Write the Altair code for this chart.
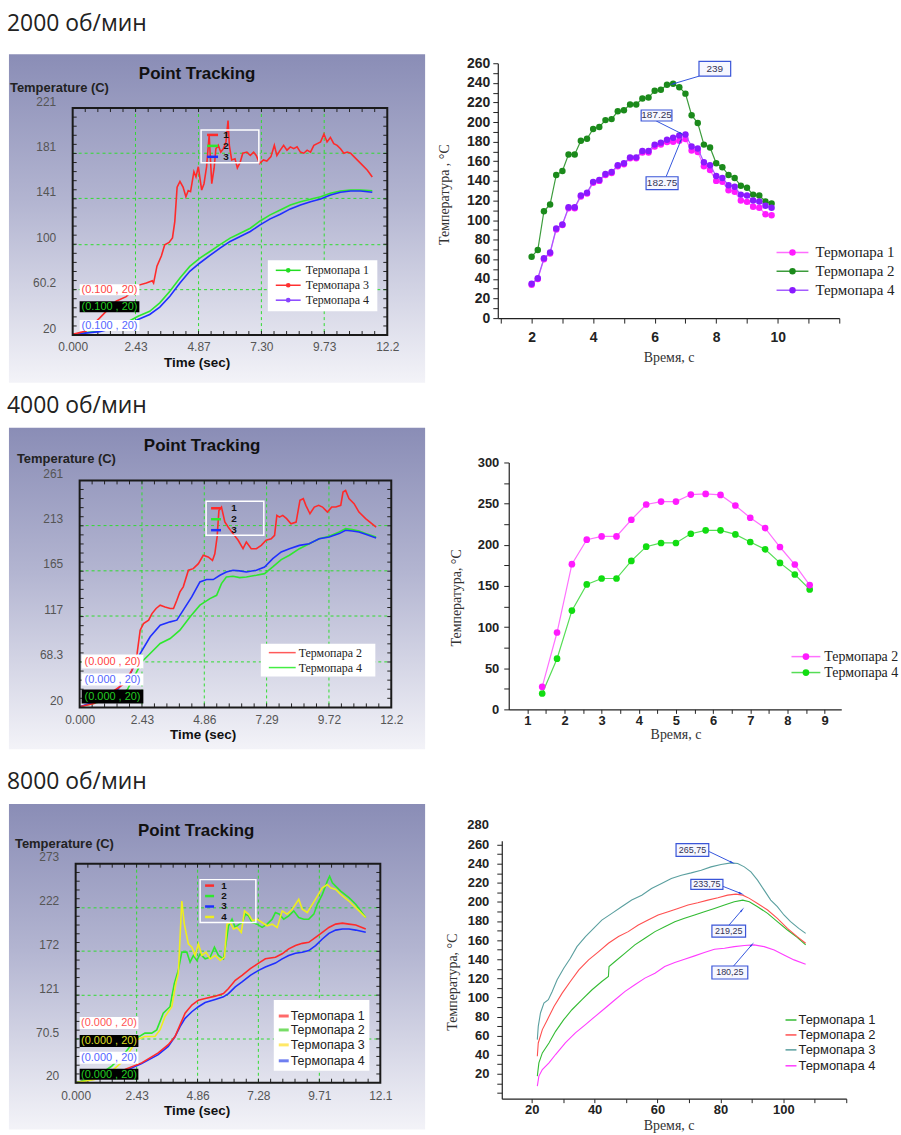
import math
import altair as alt
import pandas as pd

SANS = "Liberation Sans"
SERIF = "Liberation Serif"

# ======================= DATA =======================
# --- 2000 rpm, left (Point Tracking) ---
p1_x_ticks = [0, 2.43, 4.87, 7.30, 9.73, 12.17]
p1_x_labels = ["0.000", "2.43", "4.87", "7.30", "9.73", "12.2"]
p1_y_ticks = [20, 60.2, 100, 141, 181, 221]
p1_y_labels = ["20", "60.2", "100", "141", "181", "221"]
p1_t3_t = [0, 0.52, 1.04, 1.68, 2.07, 2.53, 2.85, 3.08, 3.13, 3.26, 3.43, 3.56, 3.73, 3.86, 3.95,
           4.04, 4.15, 4.27, 4.38, 4.47, 4.56, 4.69, 4.77, 4.86, 4.99, 5.08, 5.18, 5.28, 5.38, 5.47,
           5.54, 5.63, 5.73, 5.83, 5.93, 6.01, 6.06, 6.15, 6.28, 6.37, 6.48, 6.58, 6.74, 6.87, 7.0,
           7.1, 7.23, 7.38, 7.51, 7.67, 7.8, 7.9, 8.03, 8.16, 8.29, 8.42, 8.55, 8.68, 8.81, 8.94,
           9.07, 9.2, 9.33, 9.46, 9.59, 9.72, 9.84, 9.97, 10.1, 10.23, 10.36, 10.49, 10.62, 10.75,
           10.88, 11.14, 11.4, 11.59]
p1_t3_T = [20.6, 23.5, 35, 50, 54, 64, 66, 68, 66, 81, 90, 100, 102, 106, 120.5,
           151, 156, 151, 142.5, 148, 147, 164.6, 160, 169, 148.4, 154, 169, 197, 154, 167.5,
           185, 188, 182, 185, 191, 210, 188, 175, 176, 168, 173, 181, 182, 179, 182,
           179, 172, 175, 174, 178, 188, 179, 183.7, 188, 183.7, 186.6, 185, 186.6, 182, 181,
           183.7, 182, 188, 189.5, 191, 198, 191, 195, 189.5, 188, 185, 181, 182, 181,
           178, 172, 166, 160]
p1_t14_t = [0, 1.04, 1.94, 2.53, 2.98, 3.37, 3.76, 4.15, 4.53, 4.92, 5.31, 5.7, 6.09, 6.48, 6.87,
            7.25, 7.64, 8.03, 8.42, 8.81, 9.2, 9.59, 9.97, 10.36, 10.75, 11.14, 11.59]
p1_t1_T = [20.6, 23.5, 29.4, 36.7, 41, 48.5, 58.8, 70.5, 80.8, 88.2, 94, 100, 105.8, 110.2, 114.6,
           121, 126.4, 130.8, 135.2, 138, 140.2, 142.5, 145.5, 147.5, 148.4, 148.4, 147.8]
p1_t4_T = [20.6, 23, 28, 33.8, 38.2, 44.7, 54.4, 66, 76.4, 83.8, 90.5, 97, 102.9, 107.3, 111.7,
           117.6, 122.9, 127, 131.7, 135.2, 138.1, 140.5, 144, 146.4, 147.5, 147.5, 146.4]

# --- 2000 rpm, right ---
r1_x = [2.0, 2.2, 2.4, 2.6, 2.8, 3.0, 3.2, 3.4, 3.6, 3.8, 4.0, 4.2, 4.4, 4.6, 4.8, 5.0, 5.2, 5.4, 5.6, 5.8,
        6.0, 6.2, 6.4, 6.6, 6.8, 7.0, 7.2, 7.4, 7.6, 7.8, 8.0, 8.2, 8.4, 8.6, 8.8, 9.0, 9.2, 9.4, 9.6, 9.8]
r1_t1 = [34, 40, 60, 66, 90.5, 95, 112, 112, 124, 127, 138, 140, 146, 148, 155, 157, 163, 163, 169, 169,
         175, 177, 179.7, 180, 181, 182.75, 171, 169.5, 155, 151, 140, 139, 130.5, 129, 120, 118.6, 113.6,
         112.5, 106, 105]
r1_t2 = [62.7, 69.5, 109, 116, 146, 150, 167, 167, 181, 183, 193, 195, 202, 203, 211, 212, 218, 218, 224,
         225, 232, 233, 238, 239, 235.6, 229, 207, 199, 177, 174, 158, 154, 146, 143, 135, 133, 126, 125,
         119, 117]
r1_t4 = [35, 40.7, 61, 67, 91.5, 95.6, 113, 113, 125, 128, 139, 141, 147, 149, 156, 158, 164, 164, 170.5,
         170.5, 177, 179, 182, 184, 186.4, 187.25, 175, 173, 159, 156, 145, 143, 135.6, 134, 126, 125, 120,
         119, 114.6, 112.5]
r1_names = ["Термопара 1", "Термопара 2", "Термопара 4"]

# --- 4000 rpm, left ---
p3_x_ticks = [0, 2.43, 4.86, 7.29, 9.72, 12.15]
p3_x_labels = ["0.000", "2.43", "4.86", "7.29", "9.72", "12.2"]
p3_y_ticks = [20, 68.3, 117, 165, 213, 261]
p3_y_labels = ["20", "68.3", "117", "165", "213", "261"]
p3_red_t = [0, 0.56, 1.2, 1.72, 2.04, 2.24, 2.36, 2.49, 2.69, 2.82, 2.98, 3.14, 3.33, 3.53, 3.66,
            3.79, 3.91, 4.04, 4.24, 4.43, 4.63, 4.82, 5.01, 5.18, 5.27, 5.36, 5.43, 5.53, 5.66, 5.79,
            5.98, 6.18, 6.37, 6.5, 6.69, 6.89, 7.08, 7.27, 7.47, 7.6, 7.69, 7.79, 7.92, 8.07, 8.24,
            8.44, 8.59, 8.72, 8.82, 8.98, 9.15, 9.32, 9.47, 9.66, 9.83, 9.99, 10.18, 10.27, 10.37, 10.5,
            10.7, 10.89, 11.15, 11.56]
p3_red_T = [20.7, 24, 35, 45, 59.6, 77, 102, 109, 112.6, 119.6, 125, 128.5, 126.7, 125, 125,
            133.8, 142.6, 148, 165.6, 167.3, 172.6, 181.5, 179.7, 176, 183, 201, 229, 232.7, 216.8, 211.5,
            204.5, 197.4, 188.5, 195.6, 188.5, 188.5, 192, 197.4, 199, 202.7, 223.9, 222, 223.9, 220.4, 215,
            216.8, 239.8, 241.6, 234.5, 225.6, 232.7, 234.5, 232.7, 227.4, 232.7, 232.7, 234.5, 248.6, 250.4,
            241.6, 236.3, 227.4, 220.4, 211.5]
p3_blue_t = [0, 0.81, 1.46, 1.98, 2.36, 2.75, 3.14, 3.53, 3.79, 4.04, 4.37, 4.69, 4.95, 5.21, 5.47,
             5.72, 5.98, 6.24, 6.5, 6.89, 7.21, 7.53, 7.86, 8.18, 8.57, 8.95, 9.34, 9.73, 10.12, 10.37,
             10.63, 10.89, 11.15, 11.56]
p3_blue_T = [20.7, 27.8, 38.4, 56, 77.2, 95, 107.3, 110.8, 112.6, 123.2, 137.3, 153.2, 155.7, 155.7, 160.3,
             163.8, 165.6, 164.9, 163.8, 165.6, 169.1, 178, 185, 188.5, 192, 193.8, 199, 200.9, 204.5, 208,
             207.3, 206.2, 203.7, 199.9]
p3_green_t = [0, 1.07, 1.85, 2.43, 2.75, 3.14, 3.53, 3.91, 4.3, 4.69, 5.08, 5.34, 5.53, 5.72, 5.98,
              6.24, 6.5, 6.89, 7.21, 7.53, 7.86, 8.18, 8.57, 8.95, 9.34, 9.73, 10.12, 10.37, 10.63, 10.89,
              11.15, 11.56]
p3_green_T = [20.7, 27.8, 38.4, 68.4, 77.2, 87.8, 93.1, 102, 116, 128.5, 135.5, 139, 151.4, 158.5, 159.2,
              157.8, 158.5, 160.3, 162, 169.1, 176.9, 181.5, 188.5, 193.8, 199, 201.6, 206.2, 209.8, 208.7,
              207.3, 204.5, 200.9]

# --- 4000 rpm, right ---
r2_x = [1.4, 1.8, 2.2, 2.6, 3.0, 3.4, 3.8, 4.2, 4.6, 5.0, 5.4, 5.8, 6.2, 6.6, 7.0, 7.4, 7.8, 8.2, 8.6]
r2_t2 = [27.4, 93.4, 176.4, 206.2, 210.2, 210.2, 230.4, 248.9, 252.5, 252.5, 261, 261.8, 260.6, 247.7,
         232.8, 220.3, 197.3, 176, 151]
r2_t4 = [19.3, 61.6, 120, 151.8, 159, 159, 180.4, 197.7, 202.2, 202.2, 213.4, 217.5, 217.5, 212.6,
         203.4, 194.5, 178, 163.9, 145.8]
r2_names = ["Термопара 2", "Термопара 4"]

# --- 8000 rpm, left ---
p5_x_ticks = [0, 2.43, 4.86, 7.28, 9.71, 12.14]
p5_x_labels = ["0.000", "2.43", "4.86", "7.28", "9.71", "12.1"]
p5_y_ticks = [20, 70.5, 121, 172, 222, 273]
p5_y_labels = ["20", "70.5", "121", "172", "222", "273"]
p5_rb_t = [0, 1.03, 1.96, 2.63, 3.29, 3.69, 3.96, 4.16, 4.36, 4.63, 4.89, 5.16, 5.56, 5.89, 6.09,
           6.36, 6.63, 6.96, 7.29, 7.56, 7.96, 8.23, 8.49, 8.76, 9.03, 9.29, 9.56, 9.83, 10.09, 10.36,
           10.63, 10.89, 11.16, 11.56]
p5_t1_T = [20, 27.6, 35.3, 42.9, 54.4, 63.9, 73.4, 86.8, 100.2, 109.7, 115.4, 117.3, 120, 123, 128.8,
           138.3, 144, 151.7, 158.2, 163.1, 165, 168.9, 174.6, 178.4, 181, 182.2, 187.9, 193.7, 199.4,
           203.2, 204.3, 203.2, 202.1, 197.5]
p5_t4_T = [20, 25.7, 33.4, 42.1, 52.4, 62, 73.4, 84.9, 94.4, 102, 107.8, 112.7, 116.2, 119.2, 123,
           130.7, 136.4, 144, 149.8, 153.6, 158.2, 163.1, 167, 169.6, 170.8, 172.7, 178.4, 186, 192.5,
           196.3, 197.5, 197.5, 196.3, 193.7]
p5_t2_t = [0, 0.76, 1.43, 1.96, 2.43, 2.76, 3.03, 3.23, 3.49, 3.76, 3.93, 4.09, 4.23, 4.43, 4.56,
           4.69, 4.83, 4.96, 5.16, 5.36, 5.53, 5.69, 5.89, 5.99, 6.09, 6.23, 6.36, 6.52, 6.65, 6.76,
           6.89, 7.03, 7.23, 7.43, 7.63, 7.83, 7.96, 8.12, 8.29, 8.49, 8.69, 8.89, 9.09, 9.29, 9.49,
           9.63, 9.83, 10.03, 10.12, 10.23, 10.36, 10.56, 10.89, 11.16, 11.56]
p5_t2_T = [20, 25.7, 39, 54.4, 71.5, 77.3, 77.3, 81, 100.2, 107.8, 134.5, 149.8, 170.8, 170.8, 159.3,
           167, 161.2, 168.9, 163.1, 165, 176.5, 167, 163.1, 180.3, 201.3, 208.9, 199.4, 203.2, 205.1, 214.7,
           212.7, 205.1, 203.2, 199.4, 203.2, 208.9, 216.6, 214.7, 208.9, 212.7, 218.5, 210.8, 208.9, 208.9,
           214.7, 226.1, 237.6, 252.8, 258.5, 250.9, 247.1, 241.4, 233.7, 226.1, 210.8]
p5_t3_t = [0, 0.76, 1.43, 1.96, 2.43, 2.76, 3.16, 3.36, 3.56, 3.83, 3.99, 4.09, 4.23, 4.33, 4.49,
           4.63, 4.76, 4.89, 5.03, 5.19, 5.36, 5.56, 5.76, 5.93, 6.03, 6.16, 6.29, 6.43, 6.6, 6.73,
           6.89, 7.05, 7.23, 7.43, 7.63, 7.83, 8.03, 8.23, 8.43, 8.63, 8.89, 9.03, 9.23, 9.43, 9.63,
           9.83, 10.03, 10.16, 10.36, 10.56, 10.89, 11.16, 11.56]
p5_t3_T = [20, 23.8, 33.4, 46.7, 69.6, 73.4, 73.4, 81, 96.3, 107.8, 134.5, 145.9, 229.9, 203.2, 180.3,
           176.5, 167, 180.3, 167, 170.8, 163.1, 167, 161.2, 165, 203.2, 205.1, 197.5, 199.4, 193.7, 218.5,
           214.7, 207, 208.9, 205.1, 201.3, 203.2, 199.4, 218.5, 214.7, 220.4, 231.8, 220.4, 216.6, 226.1,
           235.6, 245.2, 249, 245.2, 243.3, 237.6, 229.9, 222.3, 210.8]

# --- 8000 rpm, right ---
r3_t3_t = [21.8, 22.1, 22.8, 23.9, 25.3, 26.5, 28.1, 30.2, 32.3, 34.4, 37.1, 39.7, 42.3, 45.5, 48.6, 51.8,
           55, 58.1, 61.3, 64.4, 67.6, 70.7, 73.9, 77, 80.2, 83.4, 85.5, 87.6, 89.7, 91.8, 93.9, 96, 98.1,
           100.2, 102.3, 104.9, 107.1]
r3_t3_T = [55.8, 69.7, 83.7, 94, 97.6, 106, 118.4, 130.6, 141, 153.2, 163.7, 172.3, 181, 188, 195, 202,
           207, 214, 219.3, 224.5, 228, 230.4, 233.2, 236.7, 239.1, 240.9, 240.2, 236.7, 231.5, 222.8, 212.3,
           201.9, 195, 186.3, 179.3, 172.3, 167.1]
r3_t2_t = [21.8, 22.1, 23.4, 25, 27.1, 29.7, 32.3, 35, 38.1, 41.3, 44.4, 47.6, 50.7, 53.9, 57, 60.2, 63.4,
           66.5, 69.7, 72.8, 76, 79.2, 82.3, 84.9, 87.1, 89.2, 91.8, 95, 98.1, 101.3, 104.4, 107.1]
r3_t2_T = [38.4, 52.3, 66.3, 76.7, 90.6, 104.5, 116.7, 128.9, 139.3, 148, 156.7, 163.7, 168.9, 175.8, 181,
           186.3, 189.8, 193.2, 196.7, 199.1, 201.9, 204.3, 207.1, 208.2, 207.1, 203.7, 198.4, 191.5, 182.8,
           172.3, 163.7, 156.7]
r3_t1_t = [21.8, 22.3, 23.4, 25.5, 27.6, 30.2, 32.8, 36, 39.2, 42.3, 44.4, 44.6, 46.5, 49.7, 52.8, 56, 59.2,
           62.3, 65.5, 68.6, 71.8, 74.9, 78.1, 81.3, 84.4, 87.1, 89.2, 91.8, 95, 98.1, 101.3, 104.4, 107.1]
r3_t1_T = [17.6, 31.5, 41.9, 52.3, 64.5, 76.7, 87.1, 97.6, 108, 116.7, 121.9, 132.3, 137.6, 146.3, 155, 162,
           168.9, 174.1, 179.3, 182.8, 186.3, 189.7, 193.2, 196.7, 200.2, 201.9, 200.2, 195, 188, 179.3, 170.6,
           163, 155]
r3_t4_t = [21.8, 22.3, 23.4, 25.5, 27.6, 30.7, 33.9, 37.1, 40.2, 43.4, 46.5, 49.7, 52.8, 56, 59.2, 62.3,
           65.5, 68.6, 71.8, 74.9, 78.1, 81.3, 84.4, 87.6, 90.7, 93.9, 97.1, 100.2, 103.4, 107.1]
r3_t4_T = [7.1, 17.6, 24.5, 31.5, 40.2, 52.3, 62.8, 71.5, 80.2, 88.9, 97.6, 106.3, 113.2, 120.2, 125.4,
           132.3, 136.5, 140, 143.5, 147, 150.4, 151.5, 153.2, 154.3, 155, 153.2, 149.7, 144.5, 139.3, 134.8]
r3_names = ["Термопара 1", "Термопара 2", "Термопара 3", "Термопара 4"]

section_titles = ["2000 об/мин", "4000 об/мин", "8000 об/мин"]

# ======================= HELPERS =======================
def one():
    return pd.DataFrame({"k": [0]})


class Cell:
    """Pixel helper: converts picture coordinates into the cell's own coordinates."""
    def __init__(self, cx0, cy0):
        self.cx0, self.cy0 = cx0, cy0

    def X(self, x):
        return x - self.cx0

    def Y(self, y):
        return y - self.cy0

    def rect(self, x0, y0, x1, y1, **mk):
        return alt.Chart(one()).mark_rect(**mk).encode(
            x=alt.value(self.X(x0)), x2=alt.value(self.X(x1)),
            y=alt.value(self.Y(y0)), y2=alt.value(self.Y(y1)))

    def text(self, x, y, s, **mk):
        return alt.Chart(one()).mark_text(text=s, **mk).encode(
            x=alt.value(self.X(x)), y=alt.value(self.Y(y)))

    def rule(self, x0, y0, x1, y1, **mk):
        return alt.Chart(one()).mark_rule(**mk).encode(
            x=alt.value(self.X(x0)), y=alt.value(self.Y(y0)),
            x2=alt.value(self.X(x1)), y2=alt.value(self.Y(y1)))

    def dot(self, x, y, color, size):
        return alt.Chart(one()).mark_circle(color=color, size=size, opacity=1).encode(
            x=alt.value(self.X(x)), y=alt.value(self.Y(y)))


def lbl_expr(vals, labels):
    a = "[" + ",".join("'" + s + "'" for s in labels) + "]"
    v = "[" + ",".join(repr(float(x)) for x in vals) + "]"
    return a + "[indexof(" + v + ", datum.value)]"


BG_GRAD = {"gradient": "linear", "x1": 0, "y1": 0, "x2": 0, "y2": 1,
           "stops": [{"offset": 0, "color": "#8a8db6"},
                     {"offset": 0.45, "color": "#b3b5d1"},
                     {"offset": 1, "color": "#f3f3f8"}]}


def left_panel(c):
    cx0, cy0, cx1, cy1 = c["cell"]
    px0, py0, px1, py1 = c["plot"]
    K = Cell(cx0, cy0)
    cw, ch = cx1 - cx0, cy1 - cy0
    xt, yt = c["xticks"], c["yticks"]
    xs = alt.Scale(domain=[xt[0], xt[-1]], range=[K.X(px0), K.X(px1)], nice=False, zero=False)
    ys = alt.Scale(domain=[yt[0], yt[-1]], range=[K.Y(py1), K.Y(py0)], nice=False, zero=False)
    xa = alt.Axis(values=xt, labelExpr=lbl_expr(xt, c["xlabels"]), title=None, grid=False, ticks=False,
                  domain=False, offset=K.Y(py1) - ch, labelPadding=c.get("xpad", 7), labelFont=SANS,
                  labelFontSize=12, labelColor="#555555", labelFlush=False, labelOverlap=False, zindex=1)
    ya = alt.Axis(values=yt, labelExpr=lbl_expr(yt, c["ylabels"]), title=None, grid=False, ticks=False,
                  domain=False, offset=-K.X(px0), labelPadding=17, labelFont=SANS, labelFontSize=12,
                  labelBaseline="bottom", labelColor="#555555", labelFlush=False, labelOverlap=False, zindex=1)
    L = []
    L.append(K.rect(cx0, cy0, cx1, cy1, fill="white", stroke="white", strokeWidth=2))
    bx0, by0, bx1, by1 = c["bg"]
    L.append(K.rect(bx0, by0, bx1, by1, fill=BG_GRAD))
    L.append(K.text(cx0 + 5, c["sec_y"], c["section"], font="Open Sans", fontSize=23,
                    align="left", baseline="middle", color="#222222"))
    L.append(K.text(c["title_x"], c["title_y"], "Point Tracking", font=SANS, fontSize=17,
                    fontWeight="bold", align="center", baseline="middle", color="#111111"))
    L.append(K.text(c["ylab_x"], c["ylab_y"] - 2, "Temperature (C)", font=SANS, fontSize=13,
                    fontWeight="bold", align="left", baseline="middle", color="#222222"))
    L.append(K.text(c["xlab_x"], c["xlab_y"] + 1.5, "Time (sec)", font=SANS, fontSize=13.5,
                    fontWeight="bold", align="center", baseline="middle", color="#111111"))
    # grid
    L.append(alt.Chart(pd.DataFrame({"v": xt[1:-1]})).mark_rule(
        color="#2fdc2f", strokeDash=[3, 3], strokeWidth=1).encode(
        x=alt.X("v:Q", scale=xs, axis=xa), y=alt.value(K.Y(py0)), y2=alt.value(K.Y(py1))))
    L.append(alt.Chart(pd.DataFrame({"v": yt[1:-1]})).mark_rule(
        color="#2fdc2f", strokeDash=[3, 3], strokeWidth=1).encode(
        y=alt.Y("v:Q", scale=ys, axis=ya), x=alt.value(K.X(px0)), x2=alt.value(K.X(px1))))
    # inward frame ticks
    mx = [xt[0] + (xt[-1] - xt[0]) * i / 25 for i in range(1, 25)]
    my = [yt[0] + (yt[-1] - yt[0]) * i / 25 for i in range(1, 25)]
    for (ya0, ya1) in [(py1, py1 - 4), (py0, py0 + 4)]:
        L.append(alt.Chart(pd.DataFrame({"v": mx})).mark_rule(color="#222222", strokeWidth=1).encode(
            x=alt.X("v:Q", scale=xs, axis=xa), y=alt.value(K.Y(ya0)), y2=alt.value(K.Y(ya1))))
    for (xa0, xa1) in [(px0, px0 + 4), (px1, px1 - 4)]:
        L.append(alt.Chart(pd.DataFrame({"v": my})).mark_rule(color="#222222", strokeWidth=1).encode(
            y=alt.Y("v:Q", scale=ys, axis=ya), x=alt.value(K.X(xa0)), x2=alt.value(K.X(xa1))))
    # series
    for t, T, col in c["series"]:
        df = pd.DataFrame({"t": t, "T": T})
        L.append(alt.Chart(df).mark_line(color=col, strokeWidth=1.6).encode(
            x=alt.X("t:Q", scale=xs, axis=xa), y=alt.Y("T:Q", scale=ys, axis=ya)))
    # frame
    L.append(K.rect(px0, py0, px1, py1, fillOpacity=0, stroke="#1a1a1a", strokeWidth=2))
    # small "1 2 3" box
    sx0, sy0, sx1, sy1 = c["small_box"]
    L.append(K.rect(sx0, sy0, sx1, sy1, fillOpacity=0, stroke="#ffffff", strokeWidth=1.5))
    lx0, lx1, tx = c["small_x"]
    for lab, col, yy in c["small_items"]:
        L.append(K.rule(lx0, yy, lx1, yy, color=col, strokeWidth=2.5))
        L.append(K.text(tx, yy, lab, font=SANS, fontSize=10, fontWeight="bold",
                        align="center", baseline="middle", color="#111111"))
    # coordinate readouts
    for (x0, y0, x1, y1, bg, fg, s) in c["readouts"]:
        L.append(K.rect(x0, y0, x1, y1, fill=bg))
        L.append(K.text((x0 + x1) / 2, (y0 + y1) / 2 + 0.5, s, font=SANS, fontSize=11,
                        align="center", baseline="middle", color=fg))
    # legend
    gx0, gy0, gx1, gy1 = c["leg_box"]
    L.append(K.rect(gx0, gy0, gx1, gy1, fill="#ffffff"))
    la, lb, ltx, dot, lfont, lsize, lw = c["leg_x"]
    for lab, col, yy in c["leg_items"]:
        L.append(K.rule(la, yy, lb, yy, color=col, strokeWidth=lw))
        if dot:
            L.append(K.dot((la + lb) / 2, yy, col, 22))
        L.append(K.text(ltx, yy, lab, font=lfont, fontSize=lsize, align="left",
                        baseline="middle", color="#222222"))
    return alt.layer(*L).properties(width=cw, height=ch)


def right_panel(c):
    cx0, cy0, cx1, cy1 = c["cell"]
    px0, py0, px1, py1 = c["plot"]
    K = Cell(cx0, cy0)
    cw, ch = cx1 - cx0, cy1 - cy0
    xd, yd = c["xdom"], c["ydom"]
    xs = alt.Scale(domain=xd, range=[K.X(px0), K.X(px1)], nice=False, zero=False)
    ys = alt.Scale(domain=yd, range=[K.Y(py1), K.Y(py0)], nice=False, zero=False)
    common = dict(title=None, grid=False, ticks=True, tickColor="#222222", tickWidth=1, domain=True,
                  domainColor="#222222", domainWidth=1.2, labelFont=SANS, labelFontWeight="bold",
                  labelColor="#222222", labelFlush=False, labelOverlap=False, zindex=1)
    xa = alt.Axis(values=c["xvals"], labelExpr=c["xexpr"], tickSize=c["xtick"], labelPadding=c["xpad"],
                  labelFontSize=c["fs"], offset=K.Y(py1) - ch, **common)
    ya = alt.Axis(values=c["yvals"], labelExpr=c["yexpr"], tickSize=5, labelPadding=c["ypad"],
                  labelFontSize=c["fs"], offset=-K.X(px0), **common)
    L = []
    L.append(K.rect(cx0, cy0, cx1, cy1, fill="white", stroke="white", strokeWidth=2))
    L.append(K.text(c["ytitle"][0], c["ytitle"][1], c["ytitle"][2], font=SERIF, fontSize=14,
                    angle=270, align="center", baseline="middle", color="#333333"))
    L.append(K.text(c["xtitle"][0], c["xtitle"][1], "Время, с", font=SERIF, fontSize=14,
                    align="center", baseline="middle", color="#333333"))
    for t, T, lcol, pcol in c["series"]:
        df = pd.DataFrame({"t": t, "T": T})
        L.append(alt.Chart(df).mark_line(color=lcol, strokeWidth=c["lw"]).encode(
            x=alt.X("t:Q", scale=xs, axis=xa), y=alt.Y("T:Q", scale=ys, axis=ya)))
        if pcol:
            L.append(alt.Chart(df).mark_circle(color=pcol, size=c["msize"], opacity=1).encode(
                x=alt.X("t:Q", scale=xs, axis=xa), y=alt.Y("T:Q", scale=ys, axis=ya)))
    for extra in c.get("extra_ylabels", []):
        L.append(alt.Chart(pd.DataFrame({"v": [extra]})).mark_text(
            text=str(extra), font=SANS, fontWeight="bold", fontSize=c["fs"], align="right",
            baseline="middle", color="#222222").encode(
            y=alt.Y("v:Q", scale=ys, axis=ya), x=alt.value(K.X(px0) - 5 - c["ypad"])))
    # annotations
    pw, ph = px1 - px0, py1 - py0
    for (bx0, bx1, by0, by1, s, ax0, ay0, ax1, ay1) in c["notes"]:
        adf = pd.DataFrame({"x": [ax0], "y": [ay0], "x2": [ax1], "y2": [ay1]})
        L.append(alt.Chart(adf).mark_rule(color="#3355dd", strokeWidth=1).encode(
            x=alt.X("x:Q", scale=xs, axis=xa), y=alt.Y("y:Q", scale=ys, axis=ya),
            x2="x2:Q", y2="y2:Q"))
        dx = (ax1 - ax0) / (xd[1] - xd[0]) * pw
        dy = -(ay1 - ay0) / (yd[1] - yd[0]) * ph
        ang = math.degrees(math.atan2(dx, -dy)) % 360
        L.append(alt.Chart(pd.DataFrame({"x": [ax1], "y": [ay1]})).mark_point(
            shape="wedge", filled=True, color="#2244dd", size=45, angle=ang, opacity=1).encode(
            x=alt.X("x:Q", scale=xs, axis=xa), y=alt.Y("y:Q", scale=ys, axis=ya)))
        bdf = pd.DataFrame({"x": [bx0], "x2": [bx1], "y": [by0], "y2": [by1],
                            "xc": [(bx0 + bx1) / 2], "yc": [(by0 + by1) / 2]})
        L.append(alt.Chart(bdf).mark_rect(fill="#f6f7ff", stroke="#3a55d8", strokeWidth=1.2).encode(
            x=alt.X("x:Q", scale=xs, axis=xa), x2="x2:Q", y=alt.Y("y:Q", scale=ys, axis=ya), y2="y2:Q"))
        L.append(alt.Chart(bdf).mark_text(text=s, font=SANS, fontSize=c["note_fs"], color="#333355",
                                          align="center", baseline="middle").encode(
            x=alt.X("xc:Q", scale=xs, axis=xa), y=alt.Y("yc:Q", scale=ys, axis=ya)))
    # legend
    la, lb, ltx, lfont, lsize = c["leg_x"]
    for lab, lcol, pcol, yy in c["leg_items"]:
        L.append(K.rule(la, yy, lb, yy, color=lcol, strokeWidth=c["leg_lw"]))
        if pcol:
            L.append(K.dot((la + lb) / 2, yy, pcol, c["msize"]))
        L.append(K.text(ltx, yy, lab, font=lfont, fontSize=lsize, align="left",
                        baseline="middle", color="#222222"))
    return alt.layer(*L).properties(width=cw, height=ch)


RED, GRN, BLU, YEL = "#ff2a2a", "#2ee82e", "#1f2fff", "#eeee1e"
ROW_Y = [0, 392, 772, 1135]
COL_X = [0, 430, 901]

# ======================= PANELS =======================
left1 = left_panel(dict(
    cell=(COL_X[0], ROW_Y[0], COL_X[1], ROW_Y[1]), plot=(71, 104, 387, 332), bg=(7, 50, 425, 380),
    section=section_titles[0], sec_y=20, title_x=196, title_y=70, ylab_x=8, ylab_y=86,
    xlab_x=196, xlab_y=359,
    xticks=p1_x_ticks, xlabels=p1_x_labels, yticks=p1_y_ticks, ylabels=p1_y_labels,
    series=[(p1_t14_t, p1_t1_T, GRN), (p1_t14_t, p1_t4_T, BLU), (p1_t3_t, p1_t3_T, RED)],
    small_box=(200, 126, 258, 159), small_x=(206, 217, 225),
    small_items=[("1", RED, 131), ("2", GRN, 142), ("3", BLU, 153)],
    readouts=[(78, 281, 138, 292, "#ffffff", "#ff4444", "(0.100 , 20)"),
              (78, 298, 138, 309, "#000000", "#22cc22", "(0.100 , 20)"),
              (78, 317, 138, 328, "#ffffff", "#5566ff", "(0.100 , 20)")],
    leg_box=(267, 257, 377, 308), leg_x=(275, 300, 305, True, SERIF, 12, 1.5),
    leg_items=[("Термопара 1", "#22dd22", 267), ("Термопара 3", "#ff3030", 282),
               ("Термопара 4", "#8844ff", 297)],
))

left2 = left_panel(dict(
    cell=(COL_X[0], ROW_Y[1], COL_X[1], ROW_Y[2]), plot=(78, 478, 391, 706), bg=(7, 425, 425, 748),
    section=section_titles[1], sec_y=403, title_x=201, title_y=443, ylab_x=15, ylab_y=459,
    xlab_x=202, xlab_y=732,
    xticks=p3_x_ticks, xlabels=p3_x_labels, yticks=p3_y_ticks, ylabels=p3_y_labels,
    series=[(p3_green_t, p3_green_T, GRN), (p3_blue_t, p3_blue_T, BLU), (p3_red_t, p3_red_T, RED)],
    small_box=(205, 499, 263, 533), small_x=(210, 220, 233),
    small_items=[("1", RED, 506), ("2", GRN, 517), ("3", BLU, 528)],
    readouts=[(80, 653, 142, 667, "#ffffff", "#ff4444", "(0.000 , 20)"),
              (80, 672, 142, 684, "#ffffff", "#5566ff", "(0.000 , 20)"),
              (80, 688, 142, 702, "#000000", "#22cc22", "(0.000 , 20)")],
    leg_box=(260, 642, 375, 675), leg_x=(268, 295, 298, False, SERIF, 12, 1.5),
    leg_items=[("Термопара 2", "#ff5a5a", 651), ("Термопара 4", "#44ee44", 666)],
))

left3 = left_panel(dict(
    cell=(COL_X[0], ROW_Y[2], COL_X[1], ROW_Y[3]), plot=(74, 863, 380, 1083), bg=(7, 803, 425, 1130),
    section=section_titles[2], sec_y=781, title_x=195, title_y=830, ylab_x=13, ylab_y=845,
    xlab_x=196, xlab_y=1110, xpad=8,
    xticks=p5_x_ticks, xlabels=p5_x_labels, yticks=p5_y_ticks, ylabels=p5_y_labels,
    series=[(p5_rb_t, p5_t4_T, BLU), (p5_rb_t, p5_t1_T, RED), (p5_t2_t, p5_t2_T, GRN),
            (p5_t3_t, p5_t3_T, YEL)],
    small_box=(199, 879, 255, 922), small_x=(204, 213, 223),
    small_items=[("1", RED, 885), ("2", GRN, 895.5), ("3", BLU, 906), ("4", YEL, 916.5)],
    readouts=[(78, 1017, 137, 1029, "#ffffff", "#ff5555", "(0.000 , 20)"),
              (78, 1035, 137, 1047, "#000000", "#dddd22", "(0.000 , 20)"),
              (78, 1052, 137, 1064, "#ffffff", "#5566ff", "(0.000 , 20)"),
              (78, 1069, 137, 1080, "#000000", "#22cc22", "(0.000 , 20)")],
    leg_box=(273, 1000, 369, 1071), leg_x=(278, 288, 290, False, SANS, 12.5, 3),
    leg_items=[(r3_names[0], "#ff6a6a", 1016), (r3_names[1], "#77dd66", 1030),
               (r3_names[2], "#ffe866", 1045), (r3_names[3], "#6f7ff0", 1061)],
))

right1 = right_panel(dict(
    cell=(COL_X[1], ROW_Y[0], COL_X[2], ROW_Y[1]), plot=(498, 59, 841, 315), xdom=[0.9, 12], ydom=[0, 260],
    xvals=list(range(1, 13)), xexpr="datum.value % 2 == 0 && datum.value <= 10 ? '' + datum.value : ''",
    yvals=list(range(0, 261, 10)), yexpr="datum.value % 20 == 0 ? '' + datum.value : ''",
    xtick=5, xpad=7, ypad=3, fs=14, lw=1.2, msize=42, note_fs=10,
    ytitle=(445, 191, "Температура , °C"), xtitle=(670, 355),
    series=[(r1_x, r1_t2, "#3c9c3c", "#1b8a1b"), (r1_x, r1_t1, "#ff6cff", "#ff1aff"),
            (r1_x, r1_t4, "#a45cff", "#8a1aff")],
    notes=[(7.44, 8.47, 262, 246.8, "239", 7.44, 246.8, 6.6, 239),
           (5.56, 6.56, 212.3, 201.1, "187.25", 6.05, 201.1, 6.85, 188.5),
           (5.72, 6.76, 144.2, 131, "182.75", 6.37, 144.2, 6.85, 181.2)],
    leg_x=(778, 810, 817, SERIF, 15), leg_lw=1.5,
    leg_items=[(r1_names[0], "#ff6cff", "#ff1aff", 249), (r1_names[1], "#3c9c3c", "#1b8a1b", 268),
               (r1_names[2], "#a45cff", "#8a1aff", 287)],
))

right2 = right_panel(dict(
    cell=(COL_X[1], ROW_Y[1], COL_X[2], ROW_Y[2]), plot=(509, 460, 843, 708), xdom=[0.5, 9.45], ydom=[0, 300],
    xvals=[v / 2 for v in range(2, 19)], xexpr="datum.value % 1 == 0 ? '' + datum.value : ''",
    yvals=list(range(0, 301, 25)), yexpr="datum.value % 50 == 0 ? '' + datum.value : ''",
    xtick=4, xpad=1, ypad=5, fs=13, lw=1.2, msize=45, note_fs=10,
    ytitle=(457, 596, "Температура, °C"), xtitle=(677, 734),
    series=[(r2_x, r2_t4, "#55dd55", "#11dd11"), (r2_x, r2_t2, "#ff70ff", "#ff1aff")],
    notes=[],
    leg_x=(793, 822, 826, SERIF, 14), leg_lw=1.5,
    leg_items=[(r2_names[0], "#ff70ff", "#ff1aff", 655), (r2_names[1], "#55dd55", "#11dd11", 671)],
))

right3 = right_panel(dict(
    cell=(COL_X[1], ROW_Y[2], COL_X[2], ROW_Y[3]), plot=(502, 840, 848, 1099), xdom=[10.5, 120], ydom=[-6, 264],
    xvals=list(range(20, 121, 10)), xexpr="datum.value % 20 == 0 && datum.value <= 100 ? '' + datum.value : ''",
    yvals=list(range(0, 261, 10)), yexpr="datum.value % 20 == 0 && datum.value > 0 ? '' + datum.value : ''",
    xtick=4, xpad=1, ypad=8, fs=13, lw=1.1, msize=0, note_fs=9,
    extra_ylabels=[280],
    ytitle=(453, 982, "Температура, °C"), xtitle=(670, 1126),
    series=[(r3_t4_t, r3_t4_T, "#ff3cff", None), (r3_t1_t, r3_t1_T, "#33bb33", None),
            (r3_t2_t, r3_t2_T, "#ff5050", None), (r3_t3_t, r3_t3_T, "#5a9f9f", None)],
    notes=[(65.9, 76.3, 261.1, 247.6, "265,75", 76.3, 252.9, 83.6, 241.4),
           (70.6, 80.8, 223.6, 213.2, "233,75", 80.8, 216.3, 86.4, 209),
           (77.3, 88.0, 175.6, 163.1, "219,25", 82.7, 175.6, 86.8, 191.3),
           (77.3, 88.7, 132.9, 119.3, "180,25", 84.2, 132.9, 89.9, 154.8)],
    leg_x=(787, 798, 800, SANS, 13), leg_lw=1.5,
    leg_items=[(r3_names[0], "#33bb33", None, 1020), (r3_names[1], "#ff5050", None, 1035),
               (r3_names[2], "#5a9f9f", None, 1050), (r3_names[3], "#ff3cff", None, 1066)],
))

chart = alt.concat(left1, right1, left2, right2, left3, right3, columns=2, spacing=0,
                   bounds="flush").properties(
    padding={"left": 0, "top": 0, "right": 0, "bottom": 0}
).configure_view(stroke="transparent", strokeWidth=0).configure(background="white")

chart.save("out.html", embed_options={"renderer": "svg", "actions": False})
